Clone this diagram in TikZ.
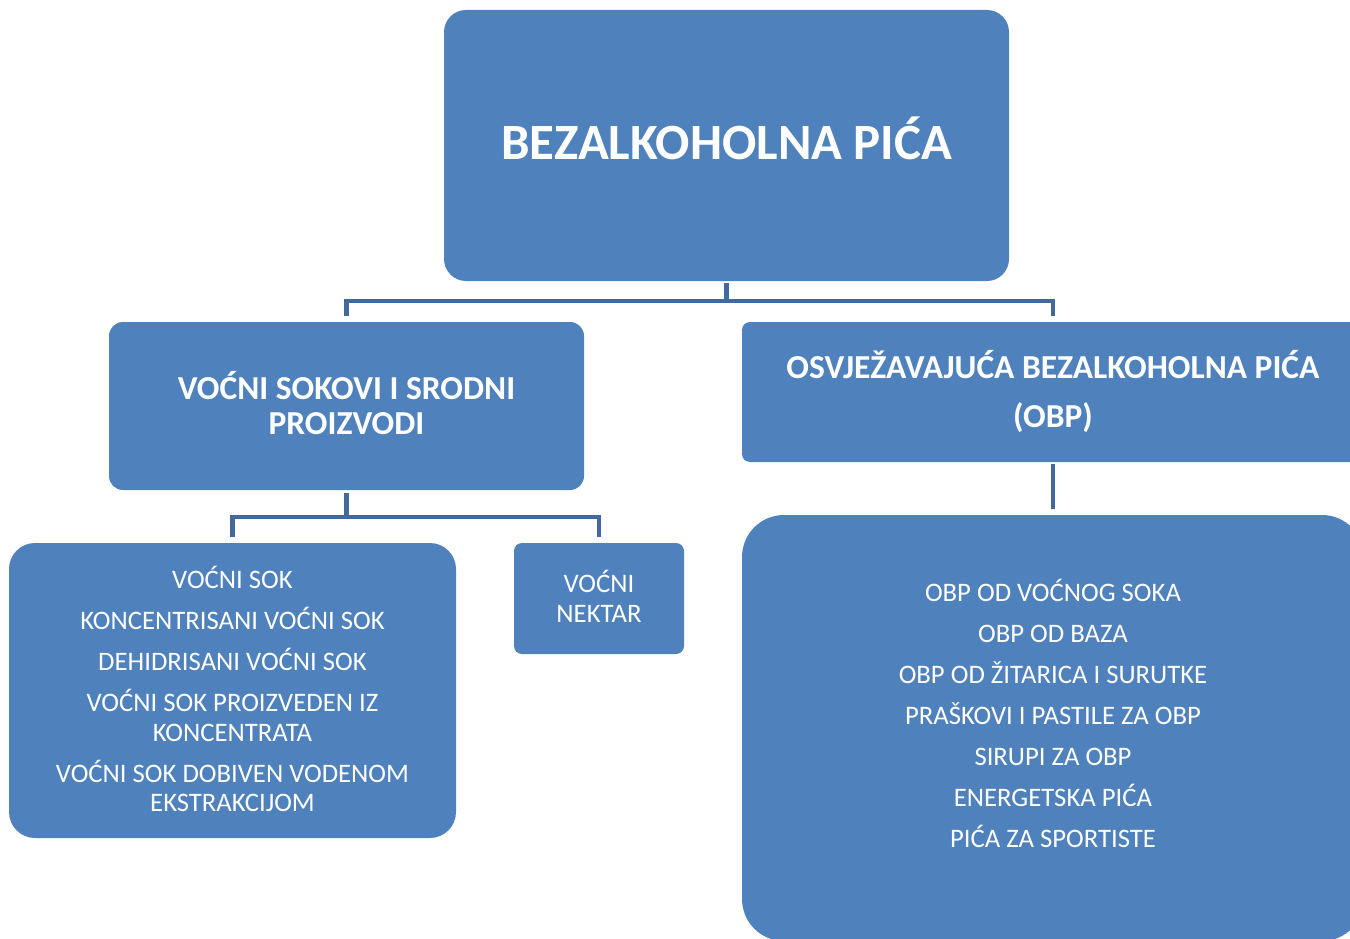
\documentclass[tikz,border=0pt]{standalone}
\usepackage{fontspec}
\setmainfont{Carlito}
\definecolor{boxblue}{HTML}{4F81BD}
\definecolor{linkblue}{HTML}{41699C}
\tikzset{
  box/.style={shape=rectangle, fill=boxblue, inner sep=0pt},
  label text/.style={text=white, align=center, inner sep=0pt},
  headfont/.style={font=\fontsize{33.5}{35}\bfseries\selectfont},
  itemfont/.style={font=\fontsize{26.7}{29.5}\selectfont},
  conn/.style={draw=linkblue, line width=4.5pt, line join=miter}
}
\begin{document}
\begin{tikzpicture}[x=1pt,y=1pt]
\useasboundingbox (0,0) rectangle (1350,-939);
\clip (0,0) rectangle (1350,-939);

% boxes
\node[box, rounded corners=22pt, minimum width=565pt, minimum height=271pt] (top) at (726.5,-145.5) {};
\node[box, rounded corners=14pt, minimum width=475pt, minimum height=168pt] (vs) at (346.5,-406) {};
\node[box, rounded corners=8pt, minimum width=622pt, minimum height=140pt] (obp) at (1053,-392) {};
\node[box, rounded corners=26pt, minimum width=447pt, minimum height=295pt] (vsok) at (232.5,-690.5) {};
\node[box, rounded corners=8pt, minimum width=170pt, minimum height=111pt] (nektar) at (599,-598.5) {};
\node[box, rounded corners=42pt, minimum width=622pt, minimum height=426pt] (obpl) at (1053,-728) {};

% texts
\node[label text, font=\fontsize{50.8}{60}\bfseries\selectfont] (toptext) at (726.5,-138)
  {BEZALKOHOLNA PIĆA};
\node[label text, headfont] (vstext) at (346.5,-403)
  {VOĆNI SOKOVI I SRODNI\\PROIZVODI};
\node[label text, headfont, font=\fontsize{33.5}{49}\bfseries\selectfont] (obptext) at (1053,-391)
  {OSVJEŽAVAJUĆA BEZALKOHOLNA PIĆA\\(OBP)};
\node[label text, itemfont] (vsoktext) at (232.5,-689)
  {VOĆNI SOK\\[11.5pt]
   KONCENTRISANI VOĆNI SOK\\[11.5pt]
   DEHIDRISANI VOĆNI SOK\\[11.5pt]
   VOĆNI SOK PROIZVEDEN IZ\\KONCENTRATA\\[11.5pt]
   VOĆNI SOK DOBIVEN VODENOM\\EKSTRAKCIJOM};
\node[label text, itemfont] (nektartext) at (599,-596.5)
  {VOĆNI\\NEKTAR};
\node[label text, font=\fontsize{26.7}{41}\selectfont] (obpltext) at (1053,-713)
  {OBP OD VOĆNOG SOKA\\
   OBP OD BAZA\\
   OBP OD ŽITARICA I SURUTKE\\
   PRAŠKOVI I PASTILE ZA OBP\\
   SIRUPI ZA OBP\\
   ENERGETSKA PIĆA\\
   PIĆA ZA SPORTISTE};

% connectors
\draw[conn] ([yshift=-2pt]top.south) -- ++(0,-18pt) coordinate (tj);
\draw[conn] ([yshift=6pt]vs.north) |- (tj) -| ([yshift=6pt]obp.north);
\draw[conn] ([yshift=-3pt]vs.south) -- ++(0,-24pt) coordinate (lj);
\draw[conn] ([yshift=6pt]vsok.north) |- (lj) -| ([yshift=6pt]nektar.north);
\draw[conn] ([yshift=-2pt]obp.south) -- ([yshift=6pt]obpl.north);
\end{tikzpicture}
\end{document}
